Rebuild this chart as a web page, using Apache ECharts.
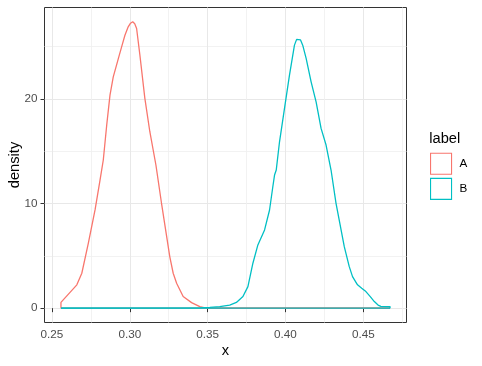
<!DOCTYPE html>
<html><head><meta charset="utf-8">
<script src="https://cdn.jsdelivr.net/npm/echarts@6/dist/echarts.min.js"></script>
<style>html,body{margin:0;padding:0;background:#fff}#c{width:482px;height:366px}</style>
</head><body><div id="c"></div>
<script>
const categories = ['A', 'B'];
const colors = ['#F8766D', '#00BFC4'];

const aX = [0.2558, 0.2660, 0.2692, 0.2734, 0.2777, 0.2809, 0.2830, 0.2852, 0.2873, 0.2894, 0.2927, 0.2950, 0.2969, 0.2990, 0.3005, 0.3019, 0.3032, 0.3044, 0.3065, 0.3097, 0.3129, 0.3168, 0.3204, 0.3257, 0.3279, 0.3301, 0.3343, 0.3397, 0.3450, 0.3490, 0.4672];
const aY = [0.55, 2.23, 3.34, 6.21, 9.39, 12.25, 14.17, 17.51, 20.37, 22.12, 23.88, 25.10, 26.10, 26.90, 27.25, 27.38, 27.20, 26.74, 24.21, 20.06, 16.87, 13.69, 10.03, 4.93, 3.34, 2.39, 1.11, 0.53, 0.15, 0.01, 0];

const bX = [0.2558, 0.3450, 0.3514, 0.3578, 0.3642, 0.3685, 0.3727, 0.3759, 0.3791, 0.3823, 0.3866, 0.3898, 0.3919, 0.3930, 0.3941, 0.3962, 0.3994, 0.4026, 0.4058, 0.4072, 0.4084, 0.4097, 0.4111, 0.4133, 0.4165, 0.4197, 0.4229, 0.4261, 0.4293, 0.4325, 0.4378, 0.4410, 0.4431, 0.4463, 0.4490, 0.4517, 0.4545, 0.4571, 0.4595, 0.4613, 0.4672];
const bY = [0, 0.02, 0.08, 0.15, 0.30, 0.55, 1.11, 2.06, 4.30, 6.05, 7.48, 9.39, 11.61, 12.73, 13.21, 15.91, 19.10, 22.28, 25.15, 25.70, 25.88, 25.65, 25.15, 23.88, 21.64, 19.73, 17.19, 15.60, 13.21, 10.03, 5.88, 3.97, 3.02, 2.23, 1.90, 1.59, 1.10, 0.63, 0.30, 0.17, 0.15];

const xTicks = [0.25, 0.30, 0.35, 0.40, 0.45];
const xMinorTicks = [0.275, 0.325, 0.375, 0.425, 0.475];
const yTicks = [0, 10, 20];
const yMinorTicks = [5, 15, 25];

const FONT = "'Liberation Sans', Arial, Helvetica, sans-serif";

// outline of each density: drop to the baseline at both ends
function outline(xs, ys) {
  const pts = xs.map((x, i) => [x, ys[i]]);
  if (ys[0] !== 0) pts.unshift([xs[0], 0]);
  if (ys[ys.length - 1] !== 0) pts.push([xs[xs.length - 1], 0]);
  return pts;
}
function baseline(xs) { return [[xs[0], 0], [xs[xs.length - 1], 0]]; }
const groups = [[aX, aY], [bX, bY]];

const allX = aX.concat(bX), allY = aY.concat(bY);
const dxMin = Math.min(...allX), dxMax = Math.max(...allX);
const dyMin = Math.min(0, ...allY), dyMax = Math.max(...allY);
const xMin = dxMin - 0.05 * (dxMax - dxMin), xMax = dxMax + 0.05 * (dxMax - dxMin);
const yMin = dyMin - 0.05 * (dyMax - dyMin), yMax = dyMax + 0.05 * (dyMax - dyMin);

const chart = echarts.init(document.getElementById('c'), null, {renderer: 'canvas'});
const hidden = {show: false};
const series = [];
categories.forEach((name, i) => {
  const [xs, ys] = groups[i];
  series.push({
    name, type: 'line', xAxisIndex: 0, yAxisIndex: 0,
    data: outline(xs, ys), showSymbol: false, symbol: 'none', smooth: false,
    lineStyle: {color: colors[i], width: 1.3}, itemStyle: {color: colors[i]},
    z: 3 + 2 * i
  });
  series.push({
    name: name + ' baseline', type: 'line', xAxisIndex: 0, yAxisIndex: 0,
    data: baseline(xs), showSymbol: false, symbol: 'none',
    lineStyle: {color: colors[i], width: 1.3}, itemStyle: {color: colors[i]},
    z: 4 + 2 * i
  });
});

chart.setOption({
  animation: false,
  backgroundColor: '#ffffff',
  grid: {left: 44.5, right: 75.5, top: 7.5, bottom: 43.5, show: true, borderColor: '#333333', borderWidth: 1, backgroundColor: '#ffffff', containLabel: false, outerBoundsMode: 'none'},
  xAxis: [{
    type: 'value', min: xMin, max: xMax, gridIndex: 0, position: 'bottom',
    axisLine: hidden,
    axisTick: {show: true, length: 4, lineStyle: {color: '#333333', width: 1}, customValues: xTicks},
    axisLabel: {customValues: xTicks, formatter: v => v.toFixed(2), color: '#4D4D4D', fontSize: 11.7, fontFamily: FONT, margin: 6},
    splitLine: {show: true, lineStyle: {color: '#E8E8E8', width: 1}},
    name: 'x', nameLocation: 'middle', nameGap: 21, nameMoveOverlap: false,
    nameTextStyle: {color: '#000', fontSize: 14.67, fontFamily: FONT}
  }, {
    type: 'value', min: xMin, max: xMax, gridIndex: 0, position: 'top',
    axisLine: hidden, axisLabel: hidden,
    axisTick: {show: false, customValues: xMinorTicks},
    splitLine: {show: true, lineStyle: {color: '#EFEFEF', width: 0.8}}
  }],
  yAxis: [{
    type: 'value', min: yMin, max: yMax, gridIndex: 0, position: 'left',
    axisLine: hidden,
    axisTick: {show: true, length: 4, lineStyle: {color: '#333333', width: 1}, customValues: yTicks},
    axisLabel: {customValues: yTicks, formatter: v => String(v), color: '#4D4D4D', fontSize: 11.7, fontFamily: FONT, margin: 7},
    splitLine: {show: true, lineStyle: {color: '#E8E8E8', width: 1}},
    name: 'density', nameLocation: 'middle', nameGap: 22, nameMoveOverlap: false,
    nameTextStyle: {color: '#000', fontSize: 14.67, fontFamily: FONT}
  }, {
    type: 'value', min: yMin, max: yMax, gridIndex: 0, position: 'right',
    axisLine: hidden, axisLabel: hidden,
    axisTick: {show: false, customValues: yMinorTicks},
    splitLine: {show: true, lineStyle: {color: '#EFEFEF', width: 0.8}}
  }],
  legend: {
    orient: 'vertical', left: 430, top: 152.7, padding: 0, itemGap: 3,
    itemWidth: 21, itemHeight: 21, selectedMode: false,
    textStyle: {fontFamily: FONT, fontSize: 11.7, color: '#000', padding: [0, 0, 0, 3]},
    data: categories.map((n, i) => ({name: n, icon: 'rect', itemStyle: {color: 'rgba(0,0,0,0)', borderColor: colors[i], borderWidth: 1.1}}))
  },
  graphic: [{type: 'text', left: 429.3, top: 131, style: {text: 'label', font: "14.67px 'Liberation Sans', Arial, sans-serif", fill: '#000'}}],
  series
});
</script>
</body></html>
